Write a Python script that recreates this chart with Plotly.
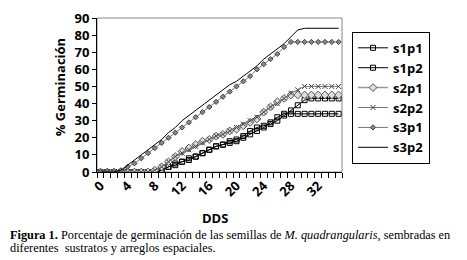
import plotly.graph_objects as go

days = list(range(36))
s1p1 = [0,0,0,0,0,0,0,0,0,1,3,5,6,7,9,11,13,15,16,17,18,20,22,24,26,29,32,34,34,34,34,34,34,34,34,34]
s1p2 = [0,0,0,0,0,0,0,0,0,1,3,4,6,8,9,11,13,15,16,18,19,21,24,26,27,28,30,33,36,39,42,43,43,43,43,43]
s2p1 = [0,0,0,0,0,0,0,0,1,3,6,9,12,14,16,18,19,21,22,24,25,27,29,31,35,38,41,43,45,45,45,45,45,45,45,45]
s2p2 = [0,0,0,0,0,0,0,0,1,3,6,9,11,13,15,17,19,21,22,24,26,28,30,32,35,38,40,43,46,48,50,50,50,50,50,50]
s3p1 = [0,0,0,1,3,5,8,11,14,17,20,23,26,29,32,35,38,41,44,47,50,53,56,60,63,66,69,73,76,76,76,76,76,76,76,76]
s3p2 = [0,0,0,1,4,7,10,13,16,19,23,26,30,33,36,39,42,45,48,51,53,56,59,62,66,69,72,75,79,83,84,84,84,84,84,84]
x_ticks = [0, 4, 8, 12, 16, 20, 24, 28, 32]
y_ticks = list(range(0, 91, 10))

fig = go.Figure()
fig.add_trace(go.Scatter(x=days, y=s1p1, name="s1p1", mode="lines+markers",
                         line=dict(color="black", width=1),
                         marker=dict(symbol="square-open", size=5, color="black", line=dict(width=1))))
fig.add_trace(go.Scatter(x=days, y=s1p2, name="s1p2", mode="lines+markers",
                         line=dict(color="black", width=1),
                         marker=dict(symbol="square-open", size=5, color="black", line=dict(width=1))))
fig.add_trace(go.Scatter(x=days, y=s2p1, name="s2p1", mode="lines+markers",
                         line=dict(color="#999999", width=1.5),
                         marker=dict(symbol="diamond", size=6, color="#dddddd", line=dict(width=1, color="#555555"))))
fig.add_trace(go.Scatter(x=days, y=s2p2, name="s2p2", mode="lines+markers",
                         line=dict(color="#777777", width=1),
                         marker=dict(symbol="x-thin-open", size=5, color="#444444", line=dict(width=1, color="#444444"))))
fig.add_trace(go.Scatter(x=days, y=s3p1, name="s3p1", mode="lines+markers",
                         line=dict(color="#777777", width=1),
                         marker=dict(symbol="diamond", size=4, color="#888888", line=dict(width=1, color="#444444"))))
fig.add_trace(go.Scatter(x=days, y=s3p2, name="s3p2", mode="lines",
                         line=dict(color="black", width=1)))

fig.update_layout(
    width=459, height=252,
    margin=dict(l=89, r=125, t=10, b=88, autoexpand=False),
    paper_bgcolor="white", plot_bgcolor="white",
    showlegend=True,
    legend=dict(x=1.041, y=0.91, xanchor="left", yanchor="top",
                bordercolor="black", borderwidth=1, bgcolor="white",
                font=dict(family="Open Sans", size=13, color="black", weight="bold"),
                itemwidth=30, tracegroupgap=0),
    xaxis=dict(range=[-0.5, 35.5], tickvals=x_ticks, ticktext=[str(v) for v in x_ticks],
               tickangle=-45, ticks="", showgrid=False, zeroline=False, automargin=False,
               showline=True, linecolor="black", linewidth=1, ticklabeloverflow="allow",
               tickfont=dict(family="Open Sans", size=13, color="black", weight="bold"),
               minor=dict(tickvals=[d - 0.5 for d in days] + [35.5], ticks="outside",
                          ticklen=5, tickcolor="black", showgrid=False)),
    yaxis=dict(range=[0, 90], tickvals=y_ticks, ticks="outside", ticklen=4,
               tickcolor="black", showgrid=False, zeroline=False, automargin=False,
               showline=True, linecolor="black", linewidth=1, ticklabeloverflow="allow",
               tickfont=dict(family="Open Sans", size=13, color="black", weight="bold")),
    shapes=[dict(type="rect", xref="paper", yref="paper", x0=0, x1=1, y0=0, y1=1,
                 line=dict(color="#888888", width=1), layer="below")],
    annotations=[
        dict(text="% Germinación", xref="paper", yref="paper", x=-0.151, y=0.55,
             textangle=-90, showarrow=False, xanchor="center", yanchor="middle",
             font=dict(family="Open Sans", size=13, color="black", weight="bold")),
        dict(text="DDS", xref="paper", yref="paper", x=0.48, y=-0.30,
             showarrow=False, xanchor="center", yanchor="middle",
             font=dict(family="Open Sans", size=13, color="black", weight="bold")),
        dict(text="<b>Figura 1.</b> Porcentaje de germinación de las semillas de <i>M. quadrangularis</i>, sembradas en",
             xref="paper", yref="paper", x=-0.363, y=-0.41, showarrow=False,
             xanchor="left", yanchor="middle",
             font=dict(family="Liberation Serif", size=12.3, color="black")),
        dict(text="diferentes  sustratos y arreglos espaciales.",
             xref="paper", yref="paper", x=-0.363, y=-0.495, showarrow=False,
             xanchor="left", yanchor="middle",
             font=dict(family="Liberation Serif", size=12.3, color="black")),
    ],
)

fig.write_html("out.html")
